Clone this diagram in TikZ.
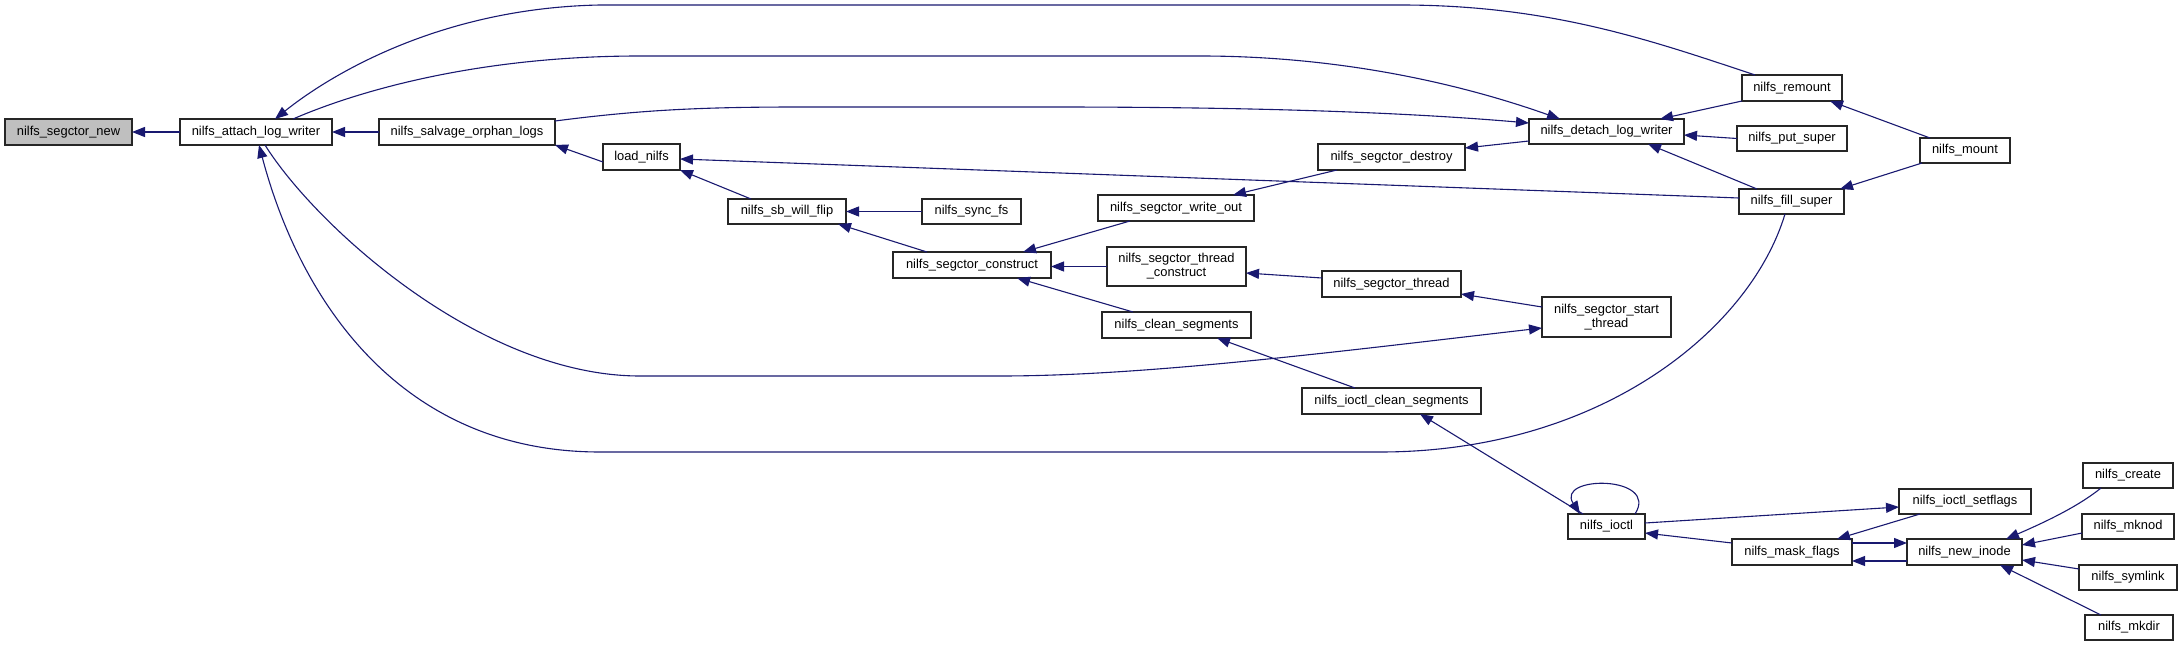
\documentclass[tikz,border=0pt]{standalone}
\usepackage{fontspec}
\setmainfont{Liberation Sans}
\usetikzlibrary{arrows.meta}
\definecolor{edgeblue}{RGB}{25,25,112}
\definecolor{rootgray}{RGB}{191,191,191}
\begin{document}
\begin{tikzpicture}[x=1pt,y=-1pt,
  box/.style={draw=black!85, line width=1.2pt, fill=white, inner sep=0pt, outer sep=0pt,
    minimum height=26pt, font=\fontsize{12.9}{14}\selectfont, align=center},
  rootbox/.style={box, fill=rootgray},
  cedge/.style={draw=edgeblue, line width=1.1pt, -{Triangle[length=13pt,width=10pt]}}]
\useasboundingbox (0,0) rectangle (2183,647);
% nodes
\node[rootbox, minimum width=127pt] (segnew) at (68.5,132) {nilfs\_segctor\_new};
\node[box, minimum width=152pt] (attach) at (256,132) {nilfs\_attach\_log\_writer};
\node[box, minimum width=176pt] (salvage) at (467,132) {nilfs\_salvage\_orphan\_logs};
\node[box, minimum width=77pt] (load) at (641.5,157) {load\_nilfs};
\node[box, minimum width=118pt, minimum height=25pt] (sbflip) at (787,211.5) {nilfs\_sb\_will\_flip};
\node[box, minimum width=99pt, minimum height=25pt] (syncfs) at (971.5,211.5) {nilfs\_sync\_fs};
\node[box, minimum width=158pt] (construct) at (972,265) {nilfs\_segctor\_construct};
\node[box, minimum width=156pt] (writeout) at (1176,208) {nilfs\_segctor\_write\_out};
\node[box, minimum width=139pt, minimum height=39pt] (threadcon) at (1176.5,266.5) {nilfs\_segctor\_thread\\\_construct};
\node[box, minimum width=149pt] (cleanseg) at (1176.5,325) {nilfs\_clean\_segments};
\node[box, minimum width=147pt] (destroy) at (1391.5,157) {nilfs\_segctor\_destroy};
\node[box, minimum width=155pt, minimum height=25pt] (detach) at (1606.5,131.5) {nilfs\_detach\_log\_writer};
\node[box, minimum width=139pt] (segthread) at (1391.5,284) {nilfs\_segctor\_thread};
\node[box, minimum width=129pt, minimum height=40pt] (startthread) at (1606.5,317) {nilfs\_segctor\_start\\\_thread};
\node[box, minimum width=179pt] (ioctlclean) at (1391.5,401) {nilfs\_ioctl\_clean\_segments};
\node[box, minimum width=100pt] (remount) at (1792,88) {nilfs\_remount};
\node[box, minimum width=110pt, minimum height=25pt] (putsuper) at (1792,138.5) {nilfs\_put\_super};
\node[box, minimum width=105pt, minimum height=25pt] (fillsuper) at (1791.5,201.5) {nilfs\_fill\_super};
\node[box, minimum width=90pt, minimum height=25pt] (mount) at (1965,150.5) {nilfs\_mount};
\node[box, minimum width=77pt, minimum height=25pt] (ioctl) at (1606.5,526.5) {nilfs\_ioctl};
\node[box, minimum width=132pt, minimum height=25pt] (setflags) at (1965,501.5) {nilfs\_ioctl\_setflags};
\node[box, minimum width=120pt] (maskflags) at (1792,552) {nilfs\_mask\_flags};
\node[box, minimum width=115pt] (newinode) at (1964.5,552) {nilfs\_new\_inode};
\node[box, minimum width=90pt, minimum height=25pt] (create) at (2128,475.5) {nilfs\_create};
\node[box, minimum width=92pt, minimum height=25pt] (mknod) at (2128,526.5) {nilfs\_mknod};
\node[box, minimum width=98pt, minimum height=25pt] (symlink) at (2128,577.5) {nilfs\_symlink};
\node[box, minimum width=88pt, minimum height=25pt] (mkdir) at (2129,627.5) {nilfs\_mkdir};
% edges
\draw[cedge] (attach.west) -- (segnew.east);
\draw[cedge] (salvage.west) -- (attach.east);
\draw[cedge] ([xshift=-37pt]remount.north) .. controls (1650,40) and (1550,5) .. (1400,5) -- (600,5) .. controls (440,8) and (330,75) .. ([xshift=19pt]attach.north);
\draw[cedge] ([xshift=37pt]attach.north) .. controls (360,90) and (480,56) .. (640,56) -- (1200,56) .. controls (1330,56) and (1450,80) .. ([xshift=-46.5pt]detach.north);
\draw[cedge] ([yshift=11pt]salvage.east) .. controls (640,110) and (700,107) .. (800,107) -- (1050,107) .. controls (1250,107) and (1400,112) .. ([yshift=8.5pt]detach.west);
\draw[cedge] ([yshift=-5pt]load.west) -- (salvage.south east);
\draw[cedge] ([xshift=-36pt]sbflip.north) -- (load.south east);
\draw[cedge] ([yshift=3.5pt]fillsuper.west) -- ([yshift=-2pt]load.east);
\draw[cedge] (syncfs.west) -- (sbflip.east);
\draw[cedge] ([xshift=-45pt]construct.north) -- ([xshift=51pt]sbflip.south);
\draw[cedge] ([xshift=-46pt]writeout.south) -- ([xshift=51pt]construct.north);
\draw[cedge] (threadcon.west) -- (construct.east |- threadcon.west);
\draw[cedge] ([xshift=-43.5pt]cleanseg.north) -- ([xshift=45pt]construct.south);
\draw[cedge] ([xshift=-54.5pt]destroy.south) -- ([xshift=57pt]writeout.north);
\draw[cedge] ([yshift=-9.5pt]detach.west) -- ([yshift=9pt]destroy.east);
\draw[cedge] (remount.south west) -- ([xshift=53.5pt]detach.north);
\draw[cedge] (putsuper.west) -- ([yshift=-3.5pt]detach.east);
\draw[cedge] ([xshift=-34.5pt]fillsuper.north) -- ([xshift=41.5pt]detach.south);
\draw[cedge] ([xshift=-35pt]mount.north) -- ([xshift=38pt]remount.south);
\draw[cedge] ([xshift=2pt]mount.south west) -- ([xshift=48.5pt]fillsuper.north);
\draw[cedge] ([yshift=6pt]segthread.west) -- ([yshift=-6.5pt]threadcon.east);
\draw[cedge] ([yshift=10pt]startthread.west) -- ([yshift=-10pt]segthread.east);
\draw[cedge] ([xshift=9pt]attach.south) .. controls (315,225) and (480,376) .. (640,376) -- (1000,376) .. controls (1150,376) and (1350,350) .. ([yshift=-11pt]startthread.west);
\draw[cedge] ([xshift=-6.5pt]fillsuper.south) .. controls (1750,330) and (1600,452) .. (1380,452) -- (600,452) .. controls (400,452) and (300,300) .. ([xshift=3pt]attach.south);
\draw[cedge] ([xshift=-36.5pt]ioctlclean.north) -- ([xshift=40.5pt]cleanseg.south);
\draw[cedge] ([xshift=-23.5pt]ioctl.north) -- ([xshift=28.5pt]ioctlclean.south);
\draw[cedge] ([xshift=28.5pt]ioctl.north) .. controls (1660,475) and (1555,475) .. ([xshift=-26.5pt]ioctl.north);
\draw[cedge] ([yshift=3.5pt]ioctl.east) -- ([yshift=-5.5pt]setflags.west);
\draw[cedge] ([yshift=9pt]maskflags.west) -- ([yshift=-6.5pt]ioctl.east);
\draw[cedge] ([xshift=-45pt]setflags.south) -- ([xshift=45pt]maskflags.north);
\draw[cedge] ([yshift=9pt]maskflags.east) -- ([yshift=9pt]newinode.west);
\draw[cedge] ([yshift=-9pt]newinode.west) -- ([yshift=-9pt]maskflags.east);
\draw[cedge] ([xshift=-27pt]create.south) .. controls (2080,505) and (2050,520) .. ([xshift=41.5pt]newinode.north);
\draw[cedge] ([yshift=-6.5pt]mknod.west) -- ([yshift=7pt]newinode.east);
\draw[cedge] ([yshift=8.5pt]symlink.west) -- ([yshift=-8pt]newinode.east);
\draw[cedge] ([xshift=-28pt]mkdir.north) -- ([xshift=35.5pt]newinode.south);
\end{tikzpicture}
\end{document}
